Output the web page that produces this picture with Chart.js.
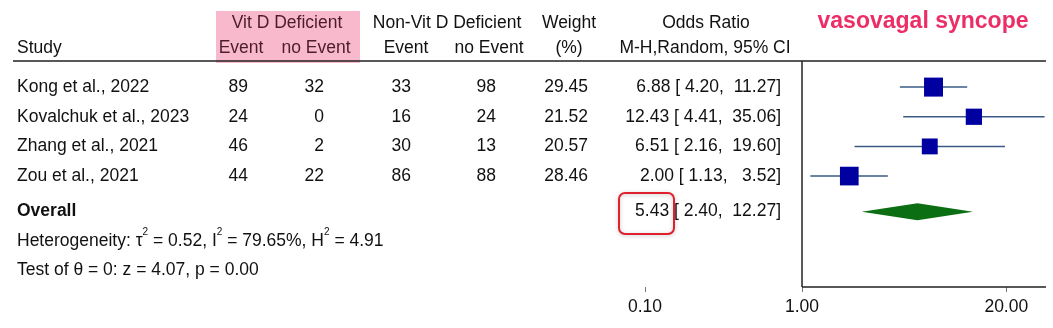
<!DOCTYPE html>
<html>
<head>
<meta charset="utf-8">
<script src="https://cdn.jsdelivr.net/npm/chart.js@4/dist/chart.umd.min.js"></script>
<style>
  html, body { margin: 0; padding: 0; background: #fff; }
  #wrap { width: 1053px; height: 328px; position: relative; }
</style>
</head>
<body>
<div id="wrap"><canvas id="forest" width="1053" height="328"></canvas></div>
<script>
// Data
const studies = ['Kong et al., 2022', 'Kovalchuk et al., 2023', 'Zhang et al., 2021', 'Zou et al., 2021'];
const vitdEvent = [89, 24, 46, 44];
const vitdNoEvent = [32, 0, 2, 22];
const nonEvent = [33, 16, 30, 86];
const nonNoEvent = [98, 24, 13, 88];
const weights = [29.45, 21.52, 20.57, 28.46];
const oddsRatio = [6.88, 12.43, 6.51, 2.00];
const ciLow = [4.20, 4.41, 2.16, 1.13];
const ciHigh = [11.27, 35.06, 19.60, 3.52];
const rows = [1, 2, 3, 4];

const overall = { or: 5.43, lo: 2.40, hi: 12.27, row: 5.2 };
const heterogeneity = { tau2: '0.52', i2: '79.65%', h2: '4.91' };
const testLine = 'Test of θ = 0: z = 4.07, p = 0.00';
const xTicks = [0.1, 1, 20];

const FONT = '"Liberation Sans", Arial, sans-serif';
const FS = 17.5;

function fmt(v, w) {
    let s = v.toFixed(2);
    while (s.length < w) s = ' ' + s;
    return s;
}
function orText(est, lo, hi) {
    return fmt(est, 5) + ' [' + fmt(lo, 5) + ', ' + fmt(hi, 6) + ']';
}

// CI whiskers, one dataset per study
const ciSets = studies.map((s, i) => ({
    type: 'line',
    data: [{x: ciLow[i], y: rows[i]}, {x: ciHigh[i], y: rows[i]}],
    borderColor: '#3b5b85',
    borderWidth: 1.5,
    pointRadius: 0,
    order: 2
}));

// Table text, header and annotations
const tablePlugin = {
    id: 'table',
    beforeDatasetsDraw(chart) {
        const ctx = chart.ctx;
        const x = chart.scales.x, y = chart.scales.y;
        const x1 = x.getPixelForValue(1);
        const right = chart.chartArea.right;
        ctx.save();

        // pink highlight behind Vit D columns
        ctx.fillStyle = '#f9b9cc';
        ctx.fillRect(216, 11, 144, 52);

        // frame lines
        ctx.strokeStyle = '#222';
        ctx.lineWidth = 1.5;
        ctx.beginPath();
        ctx.moveTo(13, 61); ctx.lineTo(right, 61);
        ctx.moveTo(x1, 61); ctx.lineTo(x1, chart.chartArea.bottom);
        ctx.moveTo(x1, chart.chartArea.bottom); ctx.lineTo(right, chart.chartArea.bottom);
        ctx.stroke();

        // diamond for the pooled estimate
        const yo = y.getPixelForValue(overall.row);
        ctx.fillStyle = '#0b6e12';
        ctx.beginPath();
        ctx.moveTo(x.getPixelForValue(overall.lo), yo);
        ctx.lineTo(x.getPixelForValue(overall.or), yo - 8.5);
        ctx.lineTo(x.getPixelForValue(overall.hi), yo);
        ctx.lineTo(x.getPixelForValue(overall.or), yo + 8.5);
        ctx.closePath();
        ctx.fill();

        ctx.textBaseline = 'middle';
        ctx.font = FS + 'px ' + FONT;

        // header
        const head = (t, cx, cy, col) => {
            ctx.fillStyle = col || '#111';
            ctx.textAlign = 'center';
            ctx.fillText(t, cx, cy);
        };
        head('Vit D Deficient', 287, 23, '#4a1c2c');
        head('Event', 241, 48, '#4a1c2c');
        head('no Event', 316, 48, '#4a1c2c');
        head('Non-Vit D Deficient', 447, 23);
        head('Event', 406, 48);
        head('no Event', 489, 48);
        head('Weight', 569, 23);
        head('(%)', 569, 48);
        head('Odds Ratio', 706, 23);
        head('M-H,Random, 95% CI', 705, 48);
        ctx.textAlign = 'left';
        ctx.fillText('Study', 17, 48);

        ctx.font = 'bold 23px ' + FONT;
        ctx.fillStyle = '#ec2d68';
        ctx.textAlign = 'center';
        ctx.fillText('vasovagal syncope', 923, 22);

        // study rows
        ctx.font = FS + 'px ' + FONT;
        ctx.fillStyle = '#111';
        studies.forEach((s, i) => {
            const cy = y.getPixelForValue(rows[i]);
            ctx.textAlign = 'left';
            ctx.fillText(s, 17, cy);
            ctx.textAlign = 'right';
            ctx.fillText(String(vitdEvent[i]), 248, cy);
            ctx.fillText(String(vitdNoEvent[i]), 324, cy);
            ctx.fillText(String(nonEvent[i]), 411, cy);
            ctx.fillText(String(nonNoEvent[i]), 496, cy);
            ctx.fillText(weights[i].toFixed(2), 588, cy);
            ctx.fillText(orText(oddsRatio[i], ciLow[i], ciHigh[i]), 781, cy);
        });

        // overall row
        ctx.textAlign = 'left';
        ctx.font = 'bold ' + FS + 'px ' + FONT;
        ctx.fillText('Overall', 17, yo);
        ctx.font = FS + 'px ' + FONT;
        ctx.textAlign = 'right';
        ctx.fillText(orText(overall.or, overall.lo, overall.hi), 781, yo);

        // red highlight box round the pooled OR
        ctx.save();
        ctx.shadowColor = 'rgba(0,0,0,0.25)';
        ctx.shadowBlur = 4;
        ctx.shadowOffsetY = 1;
        ctx.strokeStyle = '#e0202c';
        ctx.lineWidth = 2;
        ctx.beginPath();
        ctx.roundRect(619, 193, 55, 41, 6);
        ctx.stroke();
        ctx.restore();

        // heterogeneity line with superscripts
        ctx.textAlign = 'left';
        const hy = yo + 30;
        const parts = [
            ['Heterogeneity: τ', false], ['2', true], [' = ' + heterogeneity.tau2 + ', I', false], ['2', true],
            [' = ' + heterogeneity.i2 + ', H', false], ['2', true], [' = ' + heterogeneity.h2, false]
        ];
        let px = 17;
        parts.forEach(([t, sup]) => {
            ctx.font = (sup ? 10 : FS) + 'px ' + FONT;
            ctx.fillText(t, px, sup ? hy - 9 : hy);
            px += ctx.measureText(t).width;
        });
        ctx.font = FS + 'px ' + FONT;
        ctx.fillText(testLine, 17, hy + 29);

        ctx.restore();
    }
};

new Chart(document.getElementById('forest'), {
    type: 'scatter',
    data: {
        datasets: [
            ...ciSets,
            {
                data: rows.map((r, i) => ({x: oddsRatio[i], y: r})),
                pointStyle: 'rect',
                pointRadius: c => 19 * Math.sqrt(weights[c.dataIndex] / weights[0]) / Math.SQRT2,
                backgroundColor: '#0000a0',
                borderColor: '#0000a0',
                borderWidth: 0,
                order: 1
            }
        ]
    },
    options: {
        responsive: false,
        animation: false,
        events: [],
        layout: { autoPadding: false, padding: { left: 645, right: 7, top: 61, bottom: 0 } },
        plugins: { legend: { display: false }, tooltip: { enabled: false } },
        scales: {
            x: {
                type: 'logarithmic',
                min: 0.1,
                max: 35.8,
                afterBuildTicks: s => { s.ticks = xTicks.map(v => ({value: v})); },
                afterFit: s => { s.height = 41; s.paddingLeft = 0; s.paddingRight = 0; },
                border: { display: false },
                grid: { drawOnChartArea: false, tickLength: 5, color: '#777', lineWidth: 1 },
                ticks: {
                    autoSkip: false,
                    maxRotation: 0,
                    padding: 5,
                    color: '#111',
                    font: { family: FONT, size: FS },
                    callback: v => Number(v).toFixed(2)
                }
            },
            y: {
                type: 'linear',
                reverse: true,
                min: 0.12,
                max: 7.74,
                display: false
            }
        }
    },
    plugins: [tablePlugin]
});
</script>
</body>
</html>
